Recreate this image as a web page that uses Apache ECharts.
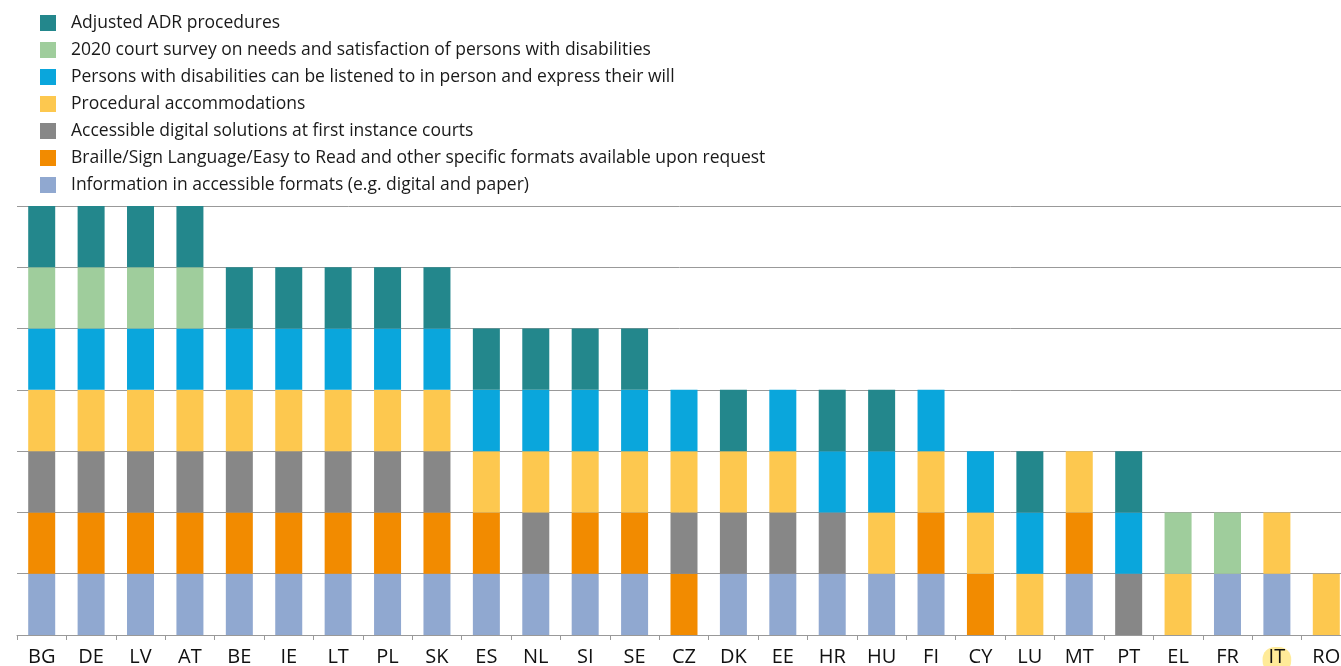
<!DOCTYPE html>
<html lang="en">
<head>
    <meta charset="UTF-8">
    <title>Accessibility of justice for persons with disabilities</title>
    <script src="https://cdn.jsdelivr.net/npm/echarts@6/dist/echarts.min.js"></script>
    <style>
        html, body { margin: 0; padding: 0; background: #fff; }
        #chart { width: 1341px; height: 666px; }
    </style>
</head>
<body>
    <div id="chart"></div>
    <script>
        const countries = ['BG','DE','LV','AT','BE','IE','LT','PL','SK','ES','NL','SI','SE','CZ','DK','EE','HR','HU','FI','CY','LU','MT','PT','EL','FR','IT','RO'];

        // 1 = measure available, 0 = not available (stacked bottom to top)
        const infoFormats   = [1,1,1,1,1,1,1,1,1,1,1,1,1,0,1,1,1,1,1,0,0,1,0,0,1,1,0];
        const braille       = [1,1,1,1,1,1,1,1,1,1,0,1,1,1,0,0,0,0,1,1,0,1,0,0,0,0,0];
        const digital       = [1,1,1,1,1,1,1,1,1,0,1,0,0,1,1,1,1,0,0,0,0,0,1,0,0,0,0];
        const procedural    = [1,1,1,1,1,1,1,1,1,1,1,1,1,1,1,1,0,1,1,1,1,1,0,1,0,1,1];
        const listened      = [1,1,1,1,1,1,1,1,1,1,1,1,1,1,0,1,1,1,1,1,1,0,1,0,0,0,0];
        const survey2020    = [1,1,1,1,0,0,0,0,0,0,0,0,0,0,0,0,0,0,0,0,0,0,0,1,1,0,0];
        const adjustedADR   = [1,1,1,1,1,1,1,1,1,1,1,1,1,0,1,0,1,1,0,0,1,0,1,0,0,0,0];

        const seriesDefs = [
            { name: 'Information in accessible formats (e.g. digital and paper)', data: infoFormats, color: '#90A8D0' },
            { name: 'Braille/Sign Language/Easy to Read and other specific formats available upon request', data: braille, color: '#F28B00' },
            { name: 'Accessible digital solutions at first instance courts', data: digital, color: '#878787' },
            { name: 'Procedural accommodations', data: procedural, color: '#FDC84F' },
            { name: 'Persons with disabilities can be listened to in person and express their will', data: listened, color: '#0AA6DC' },
            { name: '2020 court survey on needs and satisfaction of persons with disabilities', data: survey2020, color: '#9FCD9C' },
            { name: 'Adjusted ADR procedures', data: adjustedADR, color: '#23878C' }
        ];

        const chart = echarts.init(document.getElementById('chart'));
        const font = '"Open Sans", sans-serif';

        chart.setOption({
            animation: false,
            textStyle: { fontFamily: font },
            legend: {
                orient: 'vertical',
                left: 35,
                top: 9,
                itemWidth: 16,
                itemHeight: 16,
                itemGap: 9,
                icon: 'rect',
                textStyle: { fontSize: 17.5, color: '#1a1a1a', fontFamily: font, padding: [0, 0, 0, 10] },
                data: seriesDefs.map(s => s.name).reverse()
            },
            grid: { left: 17, right: -10, top: 206, bottom: 31, outerBoundsMode: 'none', containLabel: false },
            xAxis: {
                type: 'category',
                data: countries,
                axisLine: { lineStyle: { color: '#999' } },
                axisTick: { show: true, length: 5, lineStyle: { color: '#999' } },
                axisLabel: {
                    fontSize: 20,
                    color: '#111',
                    margin: 12,
                    interval: 0,
                    formatter: v => v === 'IT' ? '{hl|' + v + '}' : v,
                    rich: {
                        hl: {
                            fontSize: 20,
                            color: '#111',
                            backgroundColor: '#FFEB99',
                            borderRadius: 12,
                            padding: [0, 6, 6, 6]
                        }
                    }
                }
            },
            yAxis: {
                type: 'value',
                min: 0,
                max: 7,
                interval: 1,
                axisLabel: { show: false },
                axisLine: { show: false },
                axisTick: { show: false },
                splitLine: { lineStyle: { color: '#999', width: 1 } }
            },
            series: seriesDefs.map(s => ({
                name: s.name,
                type: 'bar',
                stack: 'total',
                barWidth: 27,
                data: s.data,
                itemStyle: { color: s.color }
            }))
        });
    </script>
</body>
</html>
